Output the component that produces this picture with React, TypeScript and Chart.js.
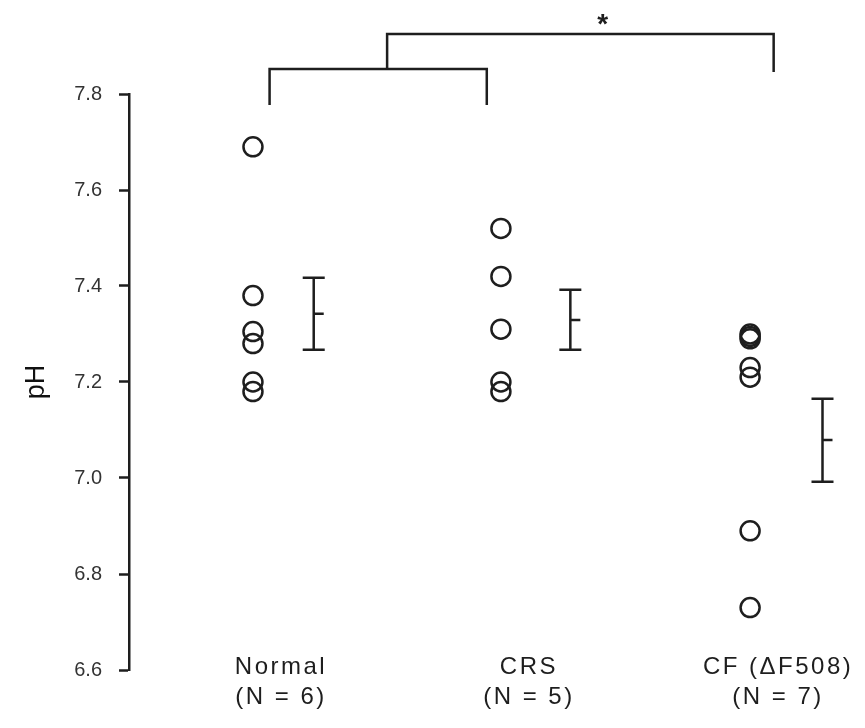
import React, { useEffect, useRef } from "react";
import { Chart, registerables } from "chart.js";

Chart.register(...registerables);

const groupNames = ["Normal", "CRS", "CF (\u0394F508)"];
const groupSizes = ["(N = 6)", "(N = 5)", "(N = 7)"];
const groupX = [1, 2, 3.005];
const normalValues = [7.69, 7.38, 7.305, 7.28, 7.2, 7.18];
const crsValues = [7.52, 7.42, 7.31, 7.2, 7.18];
const cfValues = [7.3, 7.295, 7.29, 7.23, 7.21, 6.89, 6.73];
const errorX = [1.245, 2.28, 3.297];
const errorMean = [7.342, 7.329, 7.079];
const errorLow = [7.267, 7.267, 6.992];
const errorHigh = [7.417, 7.392, 7.165];
const yTicks = [6.6, 6.8, 7.0, 7.2, 7.4, 7.6, 7.8];
const yLabel = "pH";
// comparison brackets (data units)
const lowerBracketX = [1.067, 1.943];
const lowerBracketY = [7.852, 7.777];
const upperBracketX = [1.541, 3.1];
const upperBracketY = [7.925, 7.846];
const starX = 2.41;
const starY = 7.955;
const starText = "*";

const FONT = "'Liberation Sans', Arial, Helvetica, sans-serif";
const INK = "#1e1e1e";

export default function App() {
  const ref = useRef<HTMLCanvasElement>(null);

  useEffect(() => {
    const canvas = ref.current;
    if (!canvas) return;

    const overlay = {
      id: "overlay",
      afterDraw(chart: any) {
        const ctx = chart.ctx as CanvasRenderingContext2D;
        const xs = chart.scales.x;
        const ys = chart.scales.y;
        ctx.save();
        ctx.strokeStyle = INK;
        ctx.lineWidth = 2.5;
        ctx.lineCap = "butt";

        // error bars
        for (let i = 0; i < errorX.length; i++) {
          const px = xs.getPixelForValue(errorX[i]);
          const pLo = ys.getPixelForValue(errorLow[i]);
          const pHi = ys.getPixelForValue(errorHigh[i]);
          const pM = ys.getPixelForValue(errorMean[i]);
          ctx.beginPath();
          ctx.moveTo(px, pHi);
          ctx.lineTo(px, pLo);
          ctx.moveTo(px - 11, pHi);
          ctx.lineTo(px + 11, pHi);
          ctx.moveTo(px - 11, pLo);
          ctx.lineTo(px + 11, pLo);
          ctx.moveTo(px, pM);
          ctx.lineTo(px + 10, pM);
          ctx.stroke();
        }

        // brackets
        ctx.lineJoin = "miter";
        ctx.beginPath();
        ctx.moveTo(xs.getPixelForValue(lowerBracketX[0]), ys.getPixelForValue(lowerBracketY[1]));
        ctx.lineTo(xs.getPixelForValue(lowerBracketX[0]), ys.getPixelForValue(lowerBracketY[0]));
        ctx.lineTo(xs.getPixelForValue(lowerBracketX[1]), ys.getPixelForValue(lowerBracketY[0]));
        ctx.lineTo(xs.getPixelForValue(lowerBracketX[1]), ys.getPixelForValue(lowerBracketY[1]));
        ctx.stroke();
        ctx.beginPath();
        ctx.moveTo(xs.getPixelForValue(upperBracketX[0]), ys.getPixelForValue(lowerBracketY[0]));
        ctx.lineTo(xs.getPixelForValue(upperBracketX[0]), ys.getPixelForValue(upperBracketY[0]));
        ctx.lineTo(xs.getPixelForValue(upperBracketX[1]), ys.getPixelForValue(upperBracketY[0]));
        ctx.lineTo(xs.getPixelForValue(upperBracketX[1]), ys.getPixelForValue(upperBracketY[1]));
        ctx.stroke();

        ctx.fillStyle = INK;
        ctx.textAlign = "center";
        ctx.textBaseline = "middle";
        ctx.font = `bold 28px ${FONT}`;
        ctx.fillText(starText, xs.getPixelForValue(starX), ys.getPixelForValue(starY) + 6);

        // category labels
        ctx.font = `24px ${FONT}`;
        (ctx as any).letterSpacing = "2.5px";
        const base = ys.getPixelForValue(yTicks[0]);
        for (let i = 0; i < groupNames.length; i++) {
          const cx = xs.getPixelForValue(groupX[i]) + 28;
          ctx.fillText(groupNames[i], cx, base - 3);
          ctx.fillText(groupSizes[i], cx, base + 27);
        }
        ctx.restore();
      },
    };

    const pointStyle = {
      type: "scatter" as const,
      pointStyle: "circle",
      pointRadius: 9.5,
      pointHoverRadius: 9.5,
      pointBorderWidth: 2.5,
      borderColor: INK,
      backgroundColor: "rgba(255,255,255,0)",
      showLine: false,
    };

    const chart = new Chart(canvas, {
      type: "scatter",
      data: {
        datasets: [
          { ...pointStyle, label: groupNames[0], data: normalValues.map((v) => ({ x: groupX[0], y: v })) },
          { ...pointStyle, label: groupNames[1], data: crsValues.map((v) => ({ x: groupX[1], y: v })) },
          { ...pointStyle, label: groupNames[2], data: cfValues.map((v) => ({ x: groupX[2], y: v })) },
        ],
      },
      options: {
        responsive: false,
        animation: false,
        events: [],
        layout: { padding: { top: 94, bottom: 58, left: 0, right: 2 } },
        plugins: { legend: { display: false }, tooltip: { enabled: false } },
        scales: {
          x: { type: "linear", min: 0.5, max: 3.42, display: false },
          y: {
            type: "linear",
            min: 6.6,
            max: 7.8,
            afterBuildTicks: (s: any) => {
              s.ticks = yTicks.map((v) => ({ value: v }));
            },
            afterFit: (s: any) => {
              s.width = 129;
            },
            ticks: {
              callback: (v: any) => Number(v).toFixed(1),
              font: { family: FONT, size: 20 },
              color: "#333",
              padding: 17,
            },
            grid: { drawOnChartArea: false, tickLength: 10, tickWidth: 2.5, color: INK },
            border: { display: true, width: 2.5, color: INK },
            title: {
              display: true,
              text: yLabel,
              font: { family: FONT, size: 27 },
              color: "#111",
              padding: { top: 20, bottom: 0 },
            },
          },
        },
      },
      plugins: [overlay],
    });
    return () => chart.destroy();
  }, []);

  return (
    <div style={{ position: "fixed", left: 0, top: 0, width: 865, height: 728, background: "#fff" }}>
      <canvas ref={ref} width={865} height={728} style={{ display: "block", width: 865, height: 728 }} />
    </div>
  );
}
